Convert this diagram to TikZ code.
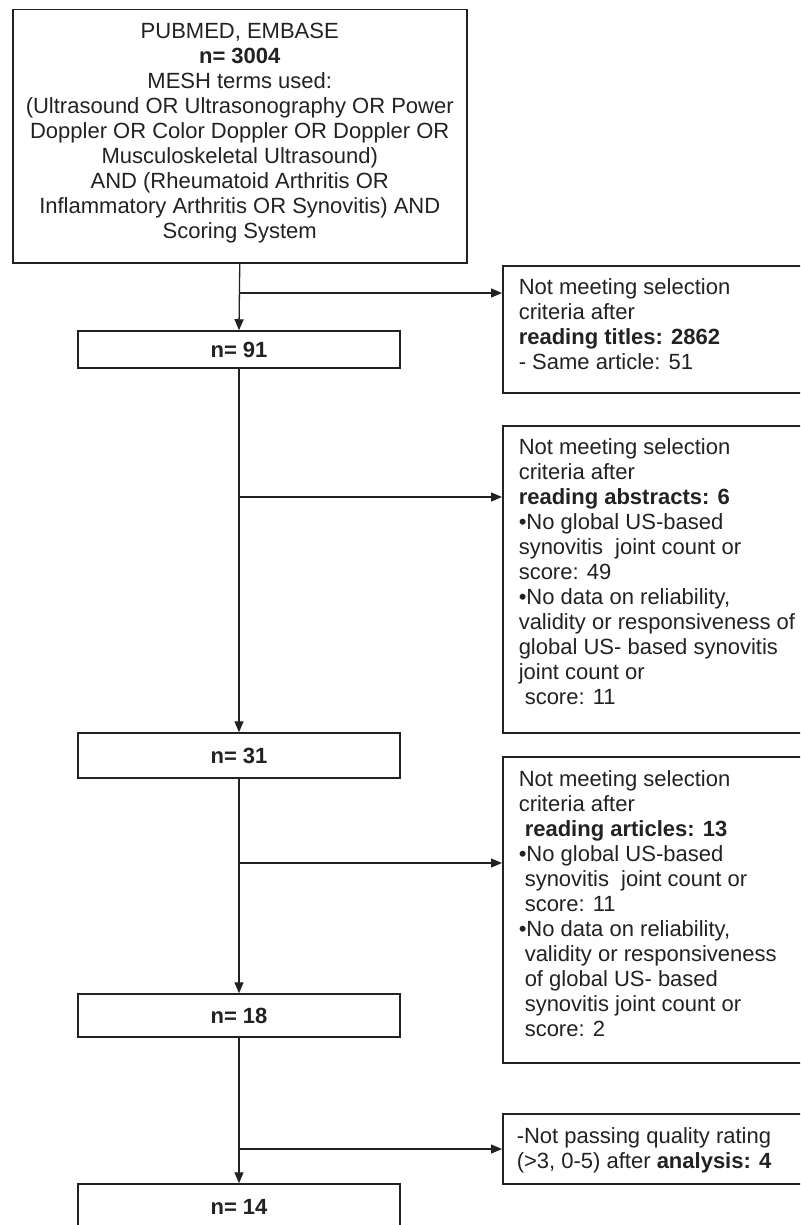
\documentclass[tikz,border=0pt]{standalone}
\usepackage{fontspec}
\setmainfont{Liberation Sans}
\usetikzlibrary{arrows.meta}
\definecolor{ink}{HTML}{222222}
\newcommand{\fs}{\fontsize{22}{25}\selectfont}
\newcommand{\ind}{\hspace*{6pt}}
\tikzset{
  box/.style={draw=ink, line width=1.5pt, rectangle, inner sep=0pt, text=ink, font=\fs},
  countbox/.style={box, minimum width=322pt, font=\fs\bfseries},
  sidebox/.style={box, anchor=north west, inner xsep=16pt, inner ysep=0pt},
  arr/.style={draw=ink, line width=1.3pt, -{Triangle[length=11pt,width=9pt]}},
}
\begin{document}
\begin{tikzpicture}[x=1pt, y=-1pt]
\useasboundingbox (0,0) rectangle (800,1225);
\fill[white] (0,0) rectangle (800,1225);
\clip (0,0) rectangle (800,1225);

% main column
\node[box, anchor=north west] (search) at (12,9) {\parbox[c][253pt][t]{454pt}{\fs\centering\rule{0pt}{29pt}PUBMED, EMBASE\\
\textbf{n= 3004}\\
MESH terms used:\\
(Ultrasound OR Ultrasonography OR Power\\
Doppler OR Color Doppler OR Doppler OR\\
Musculoskeletal Ultrasound)\\
AND (Rheumatoid Arthritis OR\\
Inflammatory Arthritis OR Synovitis) AND\\
Scoring System}};

\node[countbox, minimum height=37pt] (n91) at (239,349.5) {n= 91};
\node[countbox, minimum height=45pt] (n31) at (239,755.5) {n= 31};
\node[countbox, minimum height=43pt] (n18) at (239,1015.5) {n= 18};
\node[countbox, minimum height=45pt] (n14) at (239,1206.5) {n= 14};

% side boxes
\node[sidebox] (r1) at (502,265) {\parbox[c][127pt][t]{298pt}{\fs\raggedright\rule{0pt}{29pt}Not meeting selection\\
criteria after\\
\textbf{reading titles: 2862}\\
- Same article: 51}};

\node[sidebox] (r2) at (502,425) {\parbox[c][307pt][t]{298pt}{\fs\raggedright\rule{0pt}{29pt}Not meeting selection\\
criteria after\\
\textbf{reading abstracts: 6}\\
•No global US-based\\
synovitis\hspace{6pt} joint count or\\
score: 49\\
•No data on reliability,\\
validity or responsiveness of\\
global US- based synovitis\\
joint count or\\
\ind score: 11}};

\node[sidebox] (r3) at (502,756) {\parbox[c][306pt][t]{298pt}{\fs\raggedright\rule{0pt}{30pt}Not meeting selection\\
criteria after\\
\ind\textbf{reading articles: 13}\\
•No global US-based\\
\ind synovitis\hspace{6pt} joint count or\\
\ind score: 11\\
•No data on reliability,\\
\ind validity or responsiveness\\
\ind of global US- based\\
\ind synovitis joint count or\\
\ind score: 2}};

\node[sidebox, inner xsep=14pt] (r4) at (502,1113) {\parbox[c][70pt][t]{302pt}{\fs\raggedright\rule{0pt}{30pt}-Not passing quality rating\\
(>3, 0-5) after \textbf{analysis: 4}}};

% branch points
\coordinate (b1) at (239,293);
\coordinate (b2) at (239,497);
\coordinate (b3) at (239,863);
\coordinate (b4) at (239,1149);

% connectors
\draw[arr] (search.south) -- (n91.north);
\draw[arr] (n91.south) -- (n31.north);
\draw[arr] (n31.south) -- (n18.north);
\draw[arr] (n18.south) -- (n14.north);
\draw[arr] (b1) -- (b1 -| r1.west);
\draw[arr] (b2) -- (b2 -| r2.west);
\draw[arr] (b3) -- (b3 -| r3.west);
\draw[arr] (b4) -- (b4 -| r4.west);
\end{tikzpicture}
\end{document}
